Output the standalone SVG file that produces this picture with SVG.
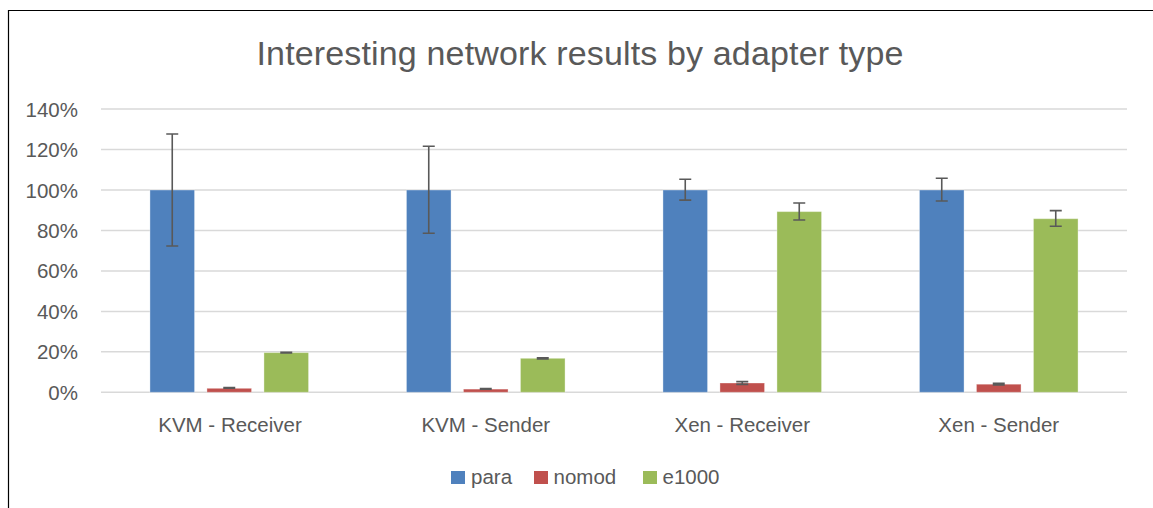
<svg xmlns="http://www.w3.org/2000/svg" width="1153" height="508" viewBox="0 0 1153 508">
<style>
text{font-family:"Liberation Sans",Arial,sans-serif;fill:#595959}
.ax{font-size:20.5px;text-anchor:end}
.cat{font-size:20.5px;text-anchor:middle}
.leg{font-size:20.5px}
.grid line{stroke:#D9D9D9;stroke-width:1.5}
.para{fill:#4F81BD}
.nomod{fill:#C0504D}
.e1000{fill:#9BBB59}
.bar{stroke:#ffffff;stroke-opacity:0.35;stroke-width:1}
.err{stroke:#595959;stroke-width:1.6;fill:none}
</style>
<rect x="0" y="0" width="1153" height="508" fill="#ffffff"/>
<path d="M8.5,508 V10.5 H1153" fill="none" stroke="#000" stroke-width="1.2"/>
<g id="title"><text x="580" y="64.5" font-size="34" text-anchor="middle" textLength="647" lengthAdjust="spacing">Interesting network results by adapter type</text></g>
<g id="grid" class="grid">
<line x1="101" y1="109.1" x2="1127" y2="109.1"/>
<line x1="101" y1="149.6" x2="1127" y2="149.6"/>
<line x1="101" y1="190.0" x2="1127" y2="190.0"/>
<line x1="101" y1="230.5" x2="1127" y2="230.5"/>
<line x1="101" y1="270.9" x2="1127" y2="270.9"/>
<line x1="101" y1="311.4" x2="1127" y2="311.4"/>
<line x1="101" y1="351.8" x2="1127" y2="351.8"/>
<line x1="101" y1="392.3" x2="1127" y2="392.3"/>
</g>
<g id="yaxis" class="ax">
<text x="78" y="116.6">140%</text>
<text x="78" y="157.1">120%</text>
<text x="78" y="197.5">100%</text>
<text x="78" y="238">80%</text>
<text x="78" y="278.4">60%</text>
<text x="78" y="318.9">40%</text>
<text x="78" y="359.3">20%</text>
<text x="78" y="399.8">0%</text>
</g>
<g id="kvm-receiver">
<rect class="bar para" x="149.95" y="190.0" width="44.6" height="202.3"/>
<rect class="bar nomod" x="206.95" y="388.3" width="44.6" height="4.0"/>
<rect class="bar e1000" x="263.95" y="352.6" width="44.6" height="39.7"/>
<path class="err" d="M172.25,134 V246 M166.25,134 H178.25 M166.25,246 H178.25"/>
<path class="err" d="M223.25,387.5 H235.25 M223.25,388.2 H235.25"/>
<path class="err" d="M280.25,352.2 H292.25 M280.25,352.9 H292.25"/>
<text class="cat" x="230" y="431.7">KVM - Receiver</text>
</g>
<g id="kvm-sender">
<rect class="bar para" x="406.45" y="190.0" width="44.6" height="202.3"/>
<rect class="bar nomod" x="463.45" y="389.1" width="44.6" height="3.2"/>
<rect class="bar e1000" x="520.45" y="358.3" width="44.6" height="34.0"/>
<path class="err" d="M428.75,146.3 V233.3 M422.75,146.3 H434.75 M422.75,233.3 H434.75"/>
<path class="err" d="M479.75,388.6 H491.75 M479.75,389.3 H491.75"/>
<path class="err" d="M536.75,357.7 H548.75 M536.75,358.9 H548.75"/>
<text class="cat" x="485.75" y="431.7">KVM - Sender</text>
</g>
<g id="xen-receiver">
<rect class="bar para" x="662.95" y="190.0" width="44.6" height="202.3"/>
<rect class="bar nomod" x="719.95" y="383.0" width="44.6" height="9.3"/>
<rect class="bar e1000" x="776.95" y="211.6" width="44.6" height="180.7"/>
<path class="err" d="M685.25,179.3 V200.1 M679.25,179.3 H691.25 M679.25,200.1 H691.25"/>
<path class="err" d="M742.25,381.6 V384.4 M736.25,381.6 H748.25 M736.25,384.4 H748.25"/>
<path class="err" d="M799.25,203 V220 M793.25,203 H805.25 M793.25,220 H805.25"/>
<text class="cat" x="742.25" y="431.7">Xen - Receiver</text>
</g>
<g id="xen-sender">
<rect class="bar para" x="919.45" y="190.0" width="44.6" height="202.3"/>
<rect class="bar nomod" x="976.45" y="384.2" width="44.6" height="8.1"/>
<rect class="bar e1000" x="1033.45" y="218.7" width="44.6" height="173.6"/>
<path class="err" d="M941.75,178.3 V201 M935.75,178.3 H947.75 M935.75,201 H947.75"/>
<path class="err" d="M998.75,383.4 V385 M992.75,383.4 H1004.75 M992.75,385 H1004.75"/>
<path class="err" d="M1055.75,210.6 V226.2 M1049.75,210.6 H1061.75 M1049.75,226.2 H1061.75"/>
<text class="cat" x="998.75" y="431.7">Xen - Sender</text>
</g>
<g id="legend" class="leg">
<rect class="para" x="451" y="471" width="14" height="13"/>
<text x="471" y="484">para</text>
<rect class="nomod" x="534" y="471" width="14" height="13"/>
<text x="553.5" y="484">nomod</text>
<rect class="e1000" x="643" y="471" width="14" height="13"/>
<text x="662.5" y="484">e1000</text>
</g>
</svg>
